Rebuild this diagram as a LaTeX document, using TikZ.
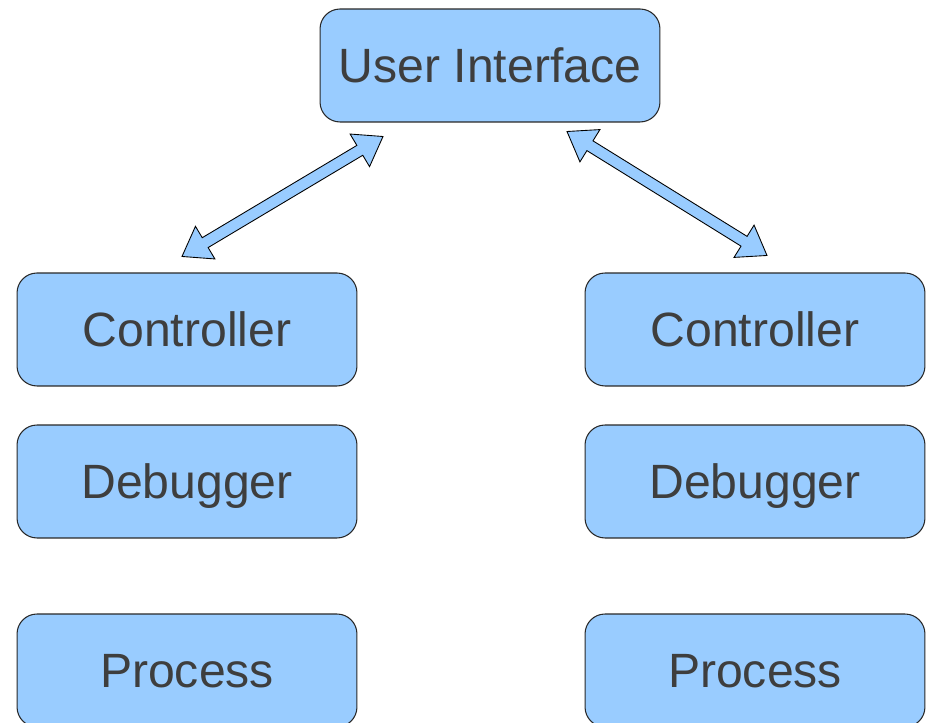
\documentclass[tikz,border=0pt]{standalone}
\usepackage{fontspec}
\setmainfont{Liberation Sans}
\usetikzlibrary{calc}
\definecolor{boxblue}{RGB}{153,204,255}
\definecolor{textgrey}{RGB}{62,62,62}
\definecolor{edgegrey}{RGB}{40,40,40}

% two-headed block arrow between two named points
\newcommand{\twowayarrow}[2]{%
  \draw[flowarrow]
    (#1)
    -- ($(#1)!0.54cm!(#2)!0.38cm!90:(#2)$)
    -- ($(#1)!0.54cm!(#2)!0.115cm!90:(#2)$)
    -- ($(#2)!0.54cm!(#1)!0.115cm!-90:(#1)$)
    -- ($(#2)!0.54cm!(#1)!0.38cm!-90:(#1)$)
    -- (#2)
    -- ($(#2)!0.54cm!(#1)!0.38cm!90:(#1)$)
    -- ($(#2)!0.54cm!(#1)!0.115cm!90:(#1)$)
    -- ($(#1)!0.54cm!(#2)!0.115cm!-90:(#2)$)
    -- ($(#1)!0.54cm!(#2)!0.38cm!-90:(#2)$)
    -- cycle;}

\begin{document}
\begin{tikzpicture}[x=0.02cm,y=0.02cm,
    layerbox/.style={draw=edgegrey,fill=boxblue,line width=0.6pt,
      rounded corners=0.4cm,minimum width=6.8cm,minimum height=2.26cm,
      text=textgrey,font=\fontsize{27.4}{32}\selectfont,
      text height=19.6pt,text depth=0pt},
    flowarrow/.style={draw=black,fill=boxblue,line width=0.5pt,line join=miter}]
  \clip (0,0) rectangle (931,723);

  % top level
  \node[layerbox] (ui) at (490,657.5) {User Interface};

  % left stack
  \node[layerbox] (ctrlL) at (187,393.5) {Controller};
  \node[layerbox] (dbgL)  at (187,241.5) {Debugger};
  \node[layerbox] (procL) at (187,52.5)  {Process};

  % right stack
  \node[layerbox] (ctrlR) at (755,393.5) {Controller};
  \node[layerbox] (dbgR)  at (755,241.5) {Debugger};
  \node[layerbox] (procR) at (755,52.5)  {Process};

  % arrow ends
  \coordinate (leftLow)  at ([shift={(-5,16)}]ctrlL.north);
  \coordinate (leftHigh) at ([shift={(-107,-14)}]ui.south);
  \coordinate (rightHigh) at ([shift={(77,-9)}]ui.south);
  \coordinate (rightLow)  at ([shift={(12,17)}]ctrlR.north);

  \twowayarrow{leftLow}{leftHigh}
  \twowayarrow{rightHigh}{rightLow}
\end{tikzpicture}
\end{document}
